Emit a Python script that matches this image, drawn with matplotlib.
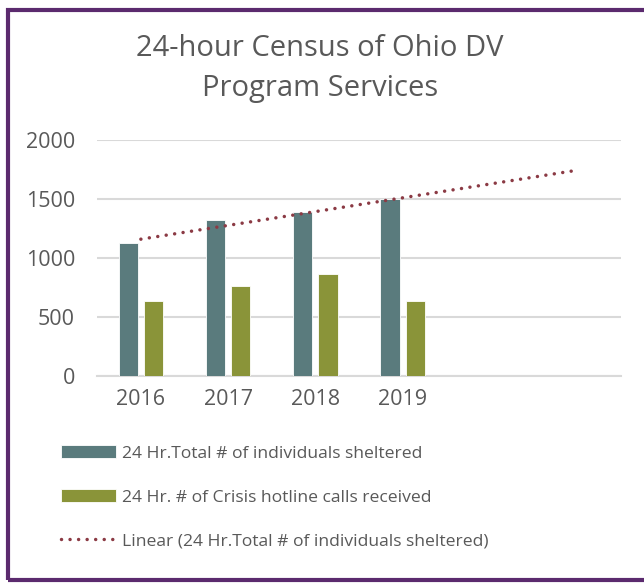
import matplotlib.pyplot as plt
import matplotlib.patches as patches
import numpy as np

plt.rcParams['font.family'] = ['Open Sans', 'DejaVu Sans']

years = ["2016", "2017", "2018", "2019"]
sheltered = [1131, 1320, 1390, 1497]
hotline = [632, 759, 863, 634]
forward_periods = 2

teal = "#5a7b7d"
olive = "#8a9439"
trend_col = "#8b3a44"
grey_txt = "#595959"

fig = plt.figure(figsize=(6.44, 5.83), dpi=100)
ax = fig.add_axes([0.151, 0.355, 0.813, 0.405])

x = np.arange(1, len(years) + 1)
w = 0.22
b1 = ax.bar(x - 0.145, sheltered, w, color=teal, edgecolor="white", linewidth=0.6,
            label="24 Hr.Total # of individuals sheltered", zorder=3)
b2 = ax.bar(x + 0.145, hotline, w, color=olive, edgecolor="white", linewidth=0.6,
            label="24 Hr. # of Crisis hotline calls received", zorder=3)

# linear trendline, forecast forward 2 periods
m, b = np.polyfit(x, sheltered, 1)
xt = np.array([1, len(years) + forward_periods])
tl, = ax.plot(xt, m * xt + b, color=trend_col, linestyle=(0, (0.01, 2.45)), linewidth=2.5,
              dash_capstyle="round", label="Linear (24 Hr.Total # of individuals sheltered)", zorder=4)

ax.set_xlim(0.5, len(years) + forward_periods + 0.5)
ax.set_ylim(0, 2000)
ax.set_yticks([0, 500, 1000, 1500, 2000])
ax.set_xticks(x)
ax.set_xticklabels(years)
ax.tick_params(length=0, labelsize=15.5, colors=grey_txt, pad=9)
ax.tick_params(axis="y", pad=16)
for s in ["top", "right", "left"]:
    ax.spines[s].set_visible(False)
ax.spines["bottom"].set_color("#d9d9d9")
ax.spines["bottom"].set_linewidth(1.5)
ax.yaxis.grid(True, color="#d9d9d9", linewidth=1.5, zorder=0)
ax.set_axisbelow(True)

fig.text(0.497, 0.882, "24-hour Census of Ohio DV\nProgram Services", ha="center", va="center",
         fontsize=21, color=grey_txt, linespacing=1.5)

leg = fig.legend(handles=[b1, b2, tl], loc="upper left", bbox_to_anchor=(0.07, 0.263), frameon=False,
                 fontsize=12.6, labelcolor=grey_txt, handlelength=3.15, handleheight=0.75,
                 labelspacing=1.55, handletextpad=0.35)

border = patches.Rectangle((8 / 644, 3 / 583), 1.0, 570 / 583, transform=fig.transFigure,
                           fill=False, edgecolor="#5b2a6e", linewidth=3, clip_on=False)
fig.patches.append(border)

fig.savefig("out.png", dpi=100)
